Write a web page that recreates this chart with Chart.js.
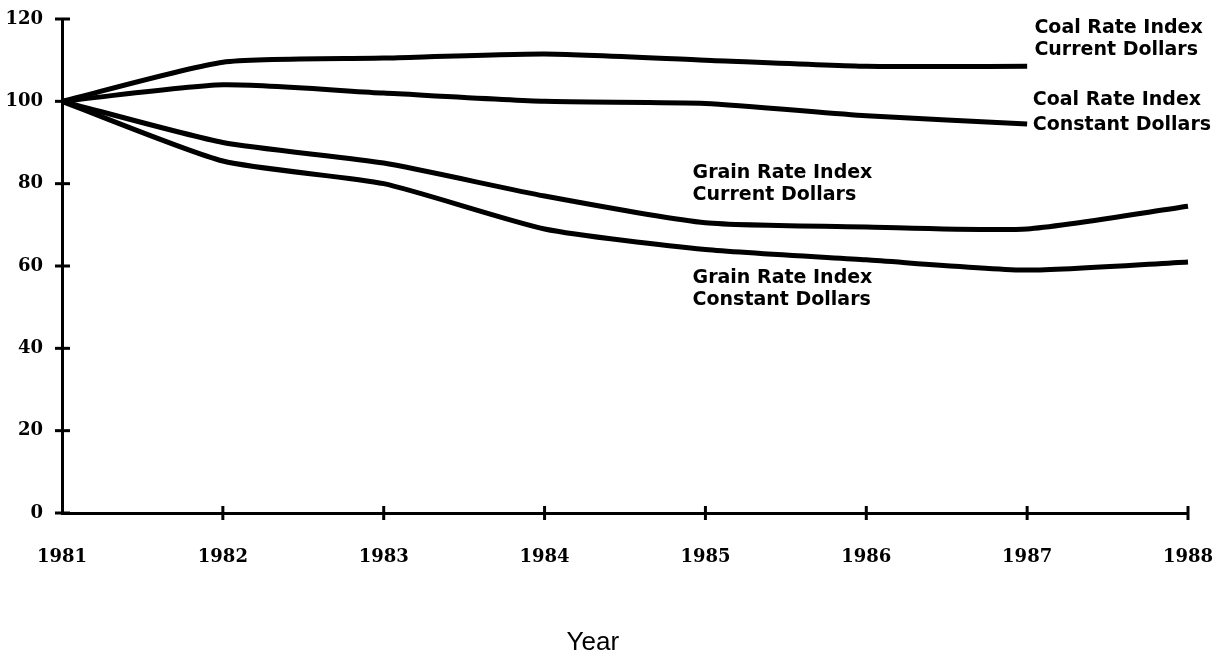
<!DOCTYPE html>
<html>
<head>
<meta charset="utf-8">
<script src="https://cdn.jsdelivr.net/npm/chart.js@4"></script>
<style>
  html, body { margin: 0; padding: 0; background: #fff; }
  #wrap { width: 1226px; height: 662px; position: relative; }
</style>
</head>
<body>
<div id="wrap"><canvas id="c" width="1226" height="662"></canvas></div>
<script>
const years = ['1981', '1982', '1983', '1984', '1985', '1986', '1987', '1988'];
const coalCurrent  = [100, 109.5, 110.5, 111.5, 110, 108.5, 108.5, null];
const coalConstant = [100, 104, 102, 100, 99.5, 96.5, 94.5, null];
const grainCurrent = [100, 90, 85, 77, 70.5, 69.5, 69, 74.5];
const grainConstant = [100, 85.5, 80, 69, 64, 61.5, 59, 61];
const yTicks = [0, 20, 40, 60, 80, 100, 120];
const xTitle = 'Year';

// label text with anchor in data units (category index, value of each line centre)
const seriesLabels = [
  { lines: ['Coal Rate Index', 'Current Dollars'], at: 6.045, vals: [117.8, 112.4] },
  { lines: ['Coal Rate Index', 'Constant Dollars'], at: 6.035, vals: [100.3, 94.2] },
  { lines: ['Grain Rate Index', 'Current Dollars'], at: 3.92, vals: [82.6, 77.2] },
  { lines: ['Grain Rate Index', 'Constant Dollars'], at: 3.92, vals: [57.1, 51.7] }
];

const tickFont = { family: '"DejaVu Serif", serif', size: 18, weight: 'bold' };

const decor = {
  id: 'decor',
  afterDraw(chart) {
    const ctx = chart.ctx;
    const xs = chart.scales.x, ys = chart.scales.y;
    ctx.save();
    ctx.strokeStyle = '#000';
    ctx.lineWidth = 3;
    // y tick marks crossing the axis
    yTicks.forEach(v => {
      const py = ys.getPixelForValue(v);
      ctx.beginPath();
      ctx.moveTo(xs.left - 7, py);
      ctx.lineTo(xs.left + 8, py);
      ctx.stroke();
    });
    // x tick marks crossing the axis
    years.forEach((y, i) => {
      if (i === 0) return;
      const px = xs.getPixelForValue(i);
      ctx.beginPath();
      ctx.moveTo(px, ys.bottom - 7);
      ctx.lineTo(px, ys.bottom + 7);
      ctx.stroke();
    });
    // series labels
    ctx.fillStyle = '#000';
    ctx.font = 'bold 19px "DejaVu Sans", sans-serif';
    ctx.textAlign = 'left';
    ctx.textBaseline = 'middle';
    seriesLabels.forEach(l => {
      const px = xs.getPixelForValue(l.at);
      l.lines.forEach((t, k) => {
        ctx.fillText(t, px, ys.getPixelForValue(l.vals[k]));
      });
    });
    // x axis title
    ctx.font = '26px "Liberation Sans", Arial, sans-serif';
    ctx.textAlign = 'center';
    ctx.fillText(xTitle, xs.getPixelForValue(3.3), 643);
    ctx.restore();
  }
};

const mk = (label, data) => ({
  label, data,
  borderColor: '#000',
  backgroundColor: '#000',
  borderWidth: 5,
  pointRadius: 0,
  tension: 0.2,
  fill: false,
  spanGaps: false
});

new Chart(document.getElementById('c'), {
  type: 'line',
  data: {
    labels: years,
    datasets: [
      mk('Coal Rate Index Current Dollars', coalCurrent),
      mk('Coal Rate Index Constant Dollars', coalConstant),
      mk('Grain Rate Index Current Dollars', grainCurrent),
      mk('Grain Rate Index Constant Dollars', grainConstant)
    ]
  },
  options: {
    responsive: false,
    animation: false,
    devicePixelRatio: 1,
    layout: { padding: { top: 19, right: 38, left: 0, bottom: 0 } },
    plugins: { legend: { display: false }, tooltip: { enabled: false } },
    scales: {
      x: {
        offset: false,
        grid: { display: false },
        border: { display: true, color: '#000', width: 3 },
        ticks: { color: '#000', font: tickFont, padding: 26, maxRotation: 0, autoSkip: false },
        afterFit(s) { s.height = 149; s.paddingLeft = 0; s.paddingRight = 0; }
      },
      y: {
        min: 0, max: 120,
        grid: { display: false },
        border: { display: true, color: '#000', width: 3 },
        ticks: { color: '#000', font: tickFont, padding: 11, stepSize: 20 },
        afterFit(s) { s.width = 62; s.paddingTop = 0; s.paddingBottom = 0; }
      }
    }
  },
  plugins: [decor]
});
</script>
</body>
</html>
